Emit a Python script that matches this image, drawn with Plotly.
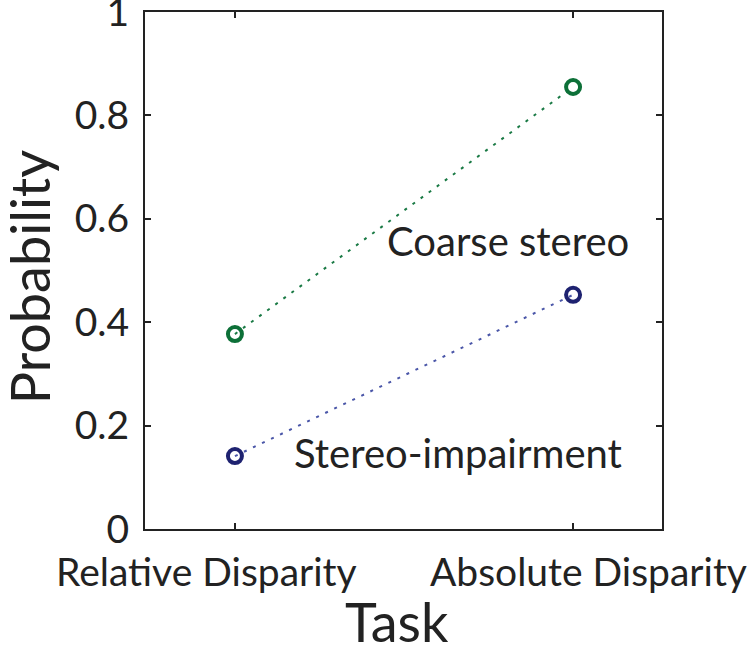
import plotly.graph_objects as go

tasks = ["Relative Disparity", "Absolute Disparity"]
coarse = [0.377, 0.855]
impair = [0.141, 0.453]
yticks = [0, 0.2, 0.4, 0.6, 0.8, 1]
ytick_labels = ["0", "0.2", "0.4", "0.6", "0.8", "1"]

FONT = "Lato"
xs = list(range(len(tasks)))

fig = go.Figure()
fig.add_trace(go.Scatter(
    x=xs, y=coarse, mode="lines+markers",
    line=dict(color="#1a7a45", width=2, dash="3px,7px"),
    marker=dict(symbol="circle-open", size=14, color="#0d7038", line=dict(width=4)),
    showlegend=False, cliponaxis=False))
fig.add_trace(go.Scatter(
    x=xs, y=impair, mode="lines+markers",
    line=dict(color="#4a56a8", width=2, dash="3px,7px"),
    marker=dict(symbol="circle-open", size=14, color="#1e2270", line=dict(width=4)),
    showlegend=False, cliponaxis=False))

fig.add_annotation(x=0.808, y=0.557, xref="x", yref="y", text="Coarse stereo",
                   showarrow=False, font=dict(family=FONT, size=40, color="#222"))
fig.add_annotation(x=0.66, y=0.147, xref="x", yref="y", text="Stereo-impairment",
                   showarrow=False, font=dict(family=FONT, size=40, color="#222"))

# category labels (offset as in the reference)
shifts = [-28, 15]
for i, t in enumerate(tasks):
    fig.add_annotation(x=xs[i], y=0, xref="x", yref="paper", yanchor="top",
                       yshift=-17, xshift=shifts[i], text=t, showarrow=False,
                       font=dict(family=FONT, size=39, color="#222"))

# axis titles
fig.add_annotation(x=0.479, y=0, xref="x", yref="paper", yanchor="middle",
                   yshift=-92, text="Task", showarrow=False,
                   font=dict(family=FONT, size=54, color="#222"))
fig.add_annotation(x=0, y=0.487, xref="paper", yref="paper", xanchor="center",
                   xshift=-116, text="Probability", textangle=-90, showarrow=False,
                   font=dict(family=FONT, size=54, color="#222"))

fig.update_layout(
    width=747, height=646,
    margin=dict(l=145, r=85, t=12, b=117),
    paper_bgcolor="white", plot_bgcolor="white",
    font=dict(family=FONT, color="#222"),
)
fig.update_xaxes(
    range=[-0.266, 1.263], tickvals=xs, ticktext=["", ""],
    ticks="inside", ticklen=6, tickwidth=2, tickcolor="#222",
    showline=True, linecolor="#222", linewidth=2, mirror="ticks",
    showgrid=False, zeroline=False, automargin=False,
)
fig.update_yaxes(
    range=[-0.0001, 1.0001], tickvals=yticks, ticktext=ytick_labels,
    ticks="inside", ticklen=6, tickwidth=2, tickcolor="#222",
    showline=True, linecolor="#222", linewidth=2, mirror="ticks",
    showgrid=False, zeroline=False, automargin=False,
    tickfont=dict(family=FONT, size=39, color="#222"),
    ticklabeloverflow="allow", ticklabelstandoff=6,
)

fig.write_html("out.html", config={"displayModeBar": False},
               post_script="document.body.style.margin='0px';")
